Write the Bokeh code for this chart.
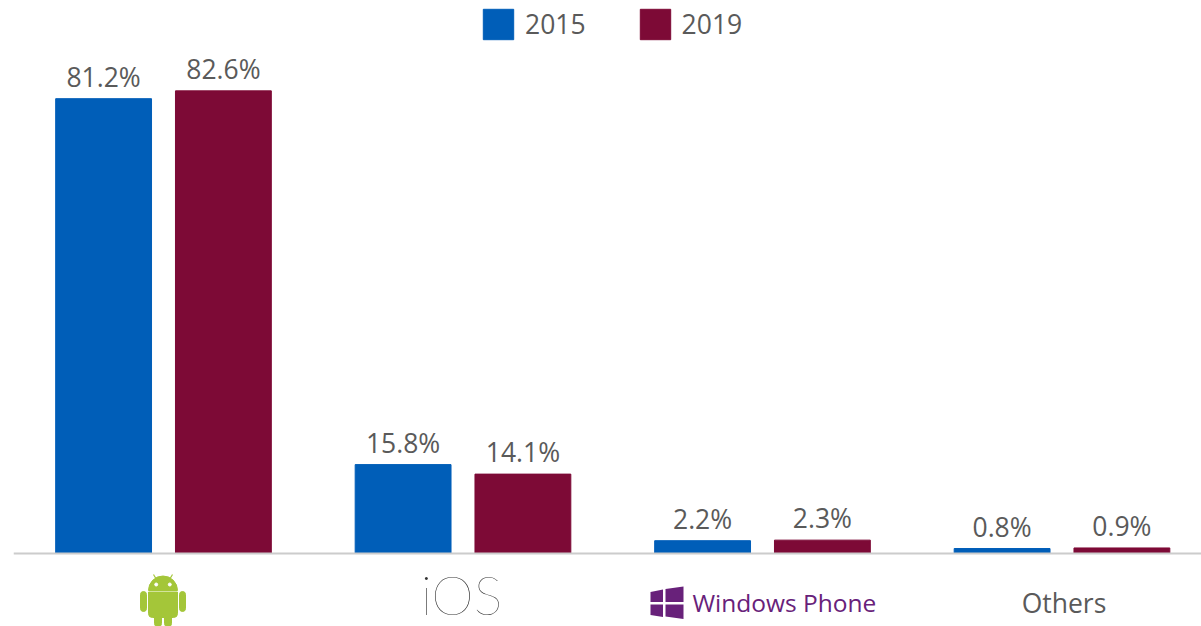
from bokeh.embed import file_html
from bokeh.resources import INLINE
from bokeh.plotting import figure
from bokeh.models import ColumnDataSource, Range1d, Legend, LegendItem, LabelSet, Label, FixedTicker
from bokeh.core.properties import value

# ---- data ----
categories = ["Android", "iOS", "Windows Phone", "Others"]
series_names = ["2015", "2019"]
values_2015 = [81.2, 15.8, 2.2, 0.8]
values_2019 = [82.6, 14.1, 2.3, 0.9]
labels_2015 = ["81.2%", "15.8%", "2.2%", "0.8%"]
labels_2019 = ["82.6%", "14.1%", "2.3%", "0.9%"]

COL_2015 = "#005eb8"
COL_2019 = "#7d0a36"
TXT = "#5a5a5a"
GREEN = "#a4c639"
PURPLE = "#68217a"

W, H = 1201, 626
LEFT = 13
X0, XS = 163.0, 299.5     # px of first category centre, px per category
Y0, YS = 552.5, 5.595     # px of zero line, px per percent


def dx(px):
    return (px - X0) / XS


def dy(px):
    return (Y0 - px) / YS


p = figure(width=W, height=H, output_backend="svg", toolbar_location=None,
           x_range=Range1d(dx(LEFT), dx(W)),
           y_range=Range1d(dy(H), dy(0)),
           min_border_left=LEFT, min_border_right=0, min_border_top=0, min_border_bottom=0,
           outline_line_color=None, background_fill_color="white", border_fill_color="white")
p.grid.visible = False
p.yaxis.visible = False
p.xaxis.fixed_location = 0
p.xaxis.ticker = FixedTicker(ticks=[])
p.xaxis.axis_line_color = "#cccccc"
p.xaxis.axis_line_width = 2
p.xaxis.major_tick_line_color = None
p.xaxis.minor_tick_line_color = None

xs = list(range(len(categories)))
OFF, BW = 0.2, 0.32
src15 = ColumnDataSource(dict(x=[i - OFF for i in xs], top=values_2015, label=labels_2015))
src19 = ColumnDataSource(dict(x=[i + OFF for i in xs], top=values_2019, label=labels_2019))
b15 = p.vbar(x="x", top="top", bottom=0, width=BW, color=COL_2015, source=src15)
b19 = p.vbar(x="x", top="top", bottom=0, width=BW, color=COL_2019, source=src19)
for s in (src15, src19):
    p.add_layout(LabelSet(x="x", y="top", text="label", source=s, text_align="center",
                          text_baseline="alphabetic", y_offset=12, text_font=value("Open Sans"),
                          text_font_size=value("26.5px"), text_color=TXT))

legend = Legend(items=[LegendItem(label=series_names[0], renderers=[b15]),
                       LegendItem(label=series_names[1], renderers=[b19])],
                orientation="horizontal", location=(466, H - 43),
                glyph_width=38, glyph_height=38, label_standoff=8, spacing=50,
                padding=0, margin=0, border_line_color=None, background_fill_alpha=0,
                label_text_font="Open Sans", label_text_font_size="26.5px", label_text_color=TXT)
p.add_layout(legend)

# ---- category marks below the axis ----
p.add_layout(Label(x=dx(1063.5), y=dy(602), text=categories[3], text_align="center",
                   text_baseline="middle", text_font="Open Sans", text_font_size="26.5px", text_color=TXT))
p.add_layout(Label(x=dx(461), y=dy(593.5), text=categories[1], text_align="center",
                   text_baseline="middle", text_font="Lato Hairline", text_font_size="54px",
                   text_color="#333333"))
p.add_layout(Label(x=dx(692), y=dy(602), text=categories[2], text_align="left",
                   text_baseline="middle", text_font="Open Sans", text_font_size="24.5px",
                   text_color=PURPLE))

# Android logo
p.wedge(x=[dx(162.5)], y=[dy(590)], radius=14.5, radius_units="screen", start_angle=0, end_angle=3.14159,
        color=GREEN)
p.quad(left=[dx(148)], right=[dx(177)], top=[dy(591.5)], bottom=[dy(617)], color=GREEN,
       border_radius=(0, 0, 4, 4))
for l, r, t, b in [(140, 146, 591, 611), (179, 185, 591, 611), (154, 161, 610, 626), (164, 171, 610, 626)]:
    p.quad(left=[dx(l)], right=[dx(r)], top=[dy(t)], bottom=[dy(b)], color=GREEN, border_radius=3)
p.segment(x0=[dx(153), dx(172)], y0=[dy(574), dy(574)], x1=[dx(156), dx(169)], y1=[dy(579), dy(579)],
          line_color=GREEN, line_width=1.2)
p.scatter(x=[dx(155.7), dx(169.3)], y=[dy(584), dy(584)], size=3, color="white")

# Windows logo
panes = [[(650, 591.5), (662.5, 589), (662.5, 601.5), (650, 601.5)],
         [(665, 588.5), (683, 586), (683, 601.5), (665, 601.5)],
         [(650, 604), (662.5, 604), (662.5, 616.5), (650, 614.5)],
         [(665, 604), (683, 604), (683, 618.5), (665, 616)]]
p.patches(xs=[[dx(a) for a, _ in q] for q in panes], ys=[[dy(b) for _, b in q] for q in panes],
          color=PURPLE, line_width=0)

open("out.html", "w").write(file_html(p, INLINE))
